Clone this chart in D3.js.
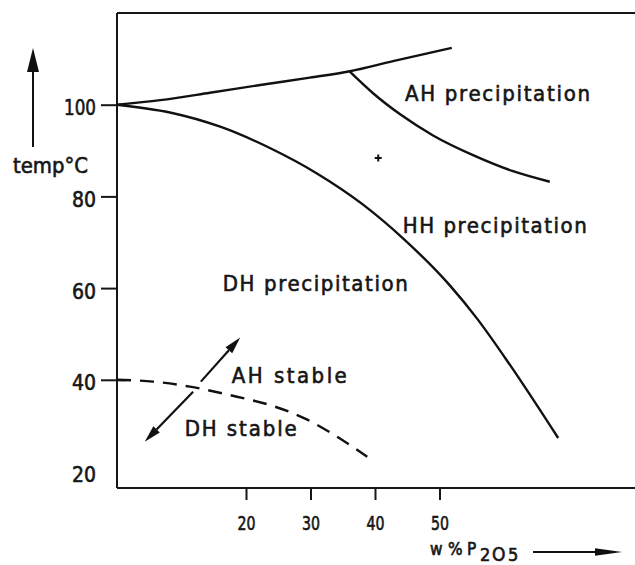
<!DOCTYPE html>
<html>
<head>
<meta charset="utf-8">
<script src="https://cdn.jsdelivr.net/npm/d3@7"></script>
<style>
  body { margin: 0; background: #fff; }
  svg text { font-family: 'DejaVu Sans Condensed', 'DejaVu Sans', sans-serif; fill: #161616; stroke: #161616; stroke-width: 0.6; }
</style>
</head>
<body>
<div id="chart"></div>
<script>
// phase diagram, x = w% P2O5, y = temperature in degC
const ahDhBoundary = [[0,100],[6.7,101.0],[14.4,102.6],[22.2,104.3],[29.9,105.9],[36.1,107.3],[42.8,109.5],[51.9,112.4]];
const dhHhBoundary = [[0,100],[8.2,98.3],[16.0,95.2],[23.7,90.55],[31.0,85.0],[38.1,78.25],[44.3,70.9],[51.6,60.6],[55.8,53.4],[60.9,43.3],[68.4,27.3]];
const ahHhBoundary = [[36.1,107.2],[39.7,102.5],[43.9,97.9],[49.0,93.3],[55.2,89.0],[61.4,85.5],[67.1,83.2]];
const stableBoundary = [[0,40],[5.6,39.6],[11.3,38.5],[18.6,36.3],[23.7,34.5],[29.5,31.3],[34.1,27.6],[38.8,23.2]];
const crossMark = [40.5, 88.4];
const arrowToAH = [[13.0,39.6],[19.1,49.2]];
const arrowToDH = [[11.8,37.4],[4.3,26.5]];

const xTicks = [20, 30, 40, 50];
const yTicks = [20, 40, 60, 80, 100];

const regionNames = ['AH precipitation', 'HH precipitation', 'DH precipitation', 'AH stable', 'DH stable'];
const regionAnchors = [[44.65,100.9],[44.3,72.1],[16.4,59.4],[17.8,39.3],[10.5,27.8]];

const width = 635, height = 565;
const plotLeft = 117, plotTop = 13, plotBottom = 488;

const svg = d3.select('#chart')
	.append('svg')
	.attr('width', width)
	.attr('height', height);

const x = d3.scaleLinear().domain([0, 80]).range([plotLeft, 633]);
const y = d3.scaleLinear().domain([16.4, 120]).range([plotBottom, plotTop]);

// frame
const frame = svg.append('g')
	.attr('stroke', '#161616')
	.attr('stroke-width', 2);
frame.append('line').attr('x1', plotLeft).attr('x2', width).attr('y1', plotTop).attr('y2', plotTop);
frame.append('line').attr('x1', plotLeft).attr('x2', width).attr('y1', plotBottom).attr('y2', plotBottom);
frame.append('line').attr('x1', plotLeft).attr('x2', plotLeft).attr('y1', plotTop).attr('y2', plotBottom);

// y axis
const yAxis = svg.append('g')
	.attr('transform', `translate(${plotLeft},0)`)
	.call(d3.axisLeft(y).tickValues(yTicks).tickSize(16).tickPadding(5).tickSizeOuter(0));
yAxis.select('.domain').remove();
yAxis.selectAll('.tick line').attr('stroke', '#161616').attr('stroke-width', 2);
yAxis.selectAll('.tick').filter(d => d == 20).select('line').remove();
yAxis.selectAll('.tick').filter(d => d == 40).select('line').attr('x1', 9);
yAxis.selectAll('.tick text')
	.attr('font-size', 22)
	.attr('dy', '0.45em')
	.attr('textLength', d => d == 100 ? 32 : 24)
	.attr('lengthAdjust', 'spacingAndGlyphs');

// x axis
const xAxis = svg.append('g')
	.attr('transform', `translate(0,${plotBottom})`)
	.call(d3.axisBottom(x).tickValues(xTicks).tickSize(12).tickPadding(16).tickSizeOuter(0));
xAxis.select('.domain').remove();
xAxis.selectAll('.tick line').attr('stroke', '#161616').attr('stroke-width', 2);
xAxis.selectAll('.tick text')
	.attr('font-size', 20)
	.attr('textLength', 18)
	.attr('lengthAdjust', 'spacingAndGlyphs');

// boundaries
const line = d3.line()
	.x(d => x(d[0]))
	.y(d => y(d[1]))
	.curve(d3.curveMonotoneX);

[ahDhBoundary, dhHhBoundary, ahHhBoundary].forEach(pts => {
	svg.append('path')
		.attr('d', line(pts))
		.attr('fill', 'none')
		.attr('stroke', '#111')
		.attr('stroke-width', 2.4);
});

svg.append('path')
	.attr('d', line(stableBoundary))
	.attr('fill', 'none')
	.attr('stroke', '#111')
	.attr('stroke-width', 2.4)
	.attr('stroke-dasharray', '14,9');

// small cross
const cx = x(crossMark[0]), cy = y(crossMark[1]);
svg.append('path')
	.attr('d', `M${cx - 3.5},${cy}H${cx + 3.5}M${cx},${cy - 3.5}V${cy + 3.5}`)
	.attr('stroke', '#111')
	.attr('stroke-width', 2);

function drawArrow(p0, p1, headLen, headHalf, sw) {
	const ang = Math.atan2(p1[1] - p0[1], p1[0] - p0[0]);
	const bx = p1[0] - headLen * Math.cos(ang), by = p1[1] - headLen * Math.sin(ang);
	svg.append('line')
		.attr('x1', p0[0]).attr('y1', p0[1])
		.attr('x2', bx).attr('y2', by)
		.attr('stroke', '#111')
		.attr('stroke-width', sw);
	const nx = -Math.sin(ang) * headHalf, ny = Math.cos(ang) * headHalf;
	svg.append('path')
		.attr('d', `M${p1[0]},${p1[1]}L${bx + nx},${by + ny}L${bx - nx},${by - ny}Z`)
		.attr('fill', '#111');
}

[arrowToAH, arrowToDH].forEach(a => {
	drawArrow([x(a[0][0]), y(a[0][1])], [x(a[1][0]), y(a[1][1])], 17, 4.5, 2.2);
});

// region labels
const labelWidths = [185, 184, 185, 115, 112];
svg.append('g')
	.selectAll('text')
	.data(regionNames)
	.enter()
	.append('text')
	.attr('x', (d, i) => x(regionAnchors[i][0]))
	.attr('y', (d, i) => y(regionAnchors[i][1]))
	.attr('font-size', 22)
	.attr('textLength', (d, i) => labelWidths[i])
	.attr('lengthAdjust', 'spacing')
	.text(d => d);

// y title and arrow
svg.append('text')
	.attr('x', 13)
	.attr('y', 173)
	.attr('font-size', 22)
	.attr('textLength', 75)
	.attr('lengthAdjust', 'spacingAndGlyphs')
	.text('temp°C');
drawArrow([33, 147], [33, 48], 24, 6, 2);

// x title and arrow
const xt = svg.append('text').attr('font-size', 17);
xt.append('tspan').attr('x', 430).attr('y', 555).text('w');
xt.append('tspan').attr('x', 448).attr('y', 555).text('%');
xt.append('tspan').attr('x', 467).attr('y', 555).text('P');
xt.append('tspan').attr('x', 480).attr('y', 560.5).attr('font-size', 18).text('2');
xt.append('tspan').attr('x', 492).attr('y', 560.5).attr('font-size', 19).text('O');
xt.append('tspan').attr('x', 508).attr('y', 560.5).attr('font-size', 18).text('5');
drawArrow([533, 552], [622, 552], 27, 3.8, 1.8);
</script>
</body>
</html>
